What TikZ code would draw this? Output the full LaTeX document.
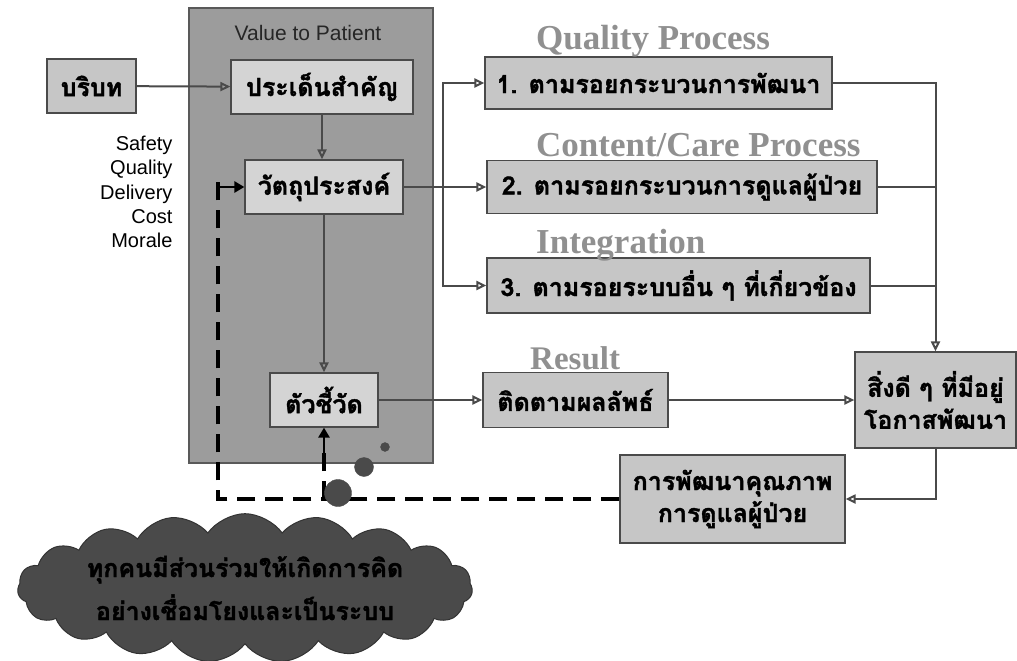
\documentclass[tikz,border=0pt]{standalone}
\usepackage{fontspec}
\setmainfont{Liberation Sans}
\newfontfamily\thaifont[Script=Thai,BoldFeatures={FakeBold=1.5}]{Loma}
\newfontfamily\headfont{Liberation Serif}
\usetikzlibrary{arrows.meta,shapes.symbols,positioning}
\definecolor{panelgray}{HTML}{9C9C9C}
\definecolor{boxgray}{HTML}{D4D4D4}
\definecolor{outgray}{HTML}{C6C6C6}
\definecolor{linegray}{HTML}{4A4A4A}
\definecolor{headgray}{HTML}{909090}
\definecolor{cloudgray}{HTML}{4A4A4A}
\begin{document}
\begin{tikzpicture}[x=1pt,y=-1pt,
	box/.style={draw=linegray,line width=1.2pt,fill=outgray,inner sep=0pt,align=center,font=\thaifont\bfseries\fontsize{25}{32}\selectfont},
	inbox/.style={box,fill=boxgray},
	head/.style={anchor=base west,inner sep=0pt,text=headgray,font=\headfont\bfseries\fontsize{35}{35}\selectfont},
	conn/.style={draw=linegray,line width=2pt,-{Triangle[open,length=10pt,width=9pt]}},
	wire/.style={draw=linegray,line width=2pt},
	fb/.style={draw=black,line width=3.5pt,dash pattern=on 18pt off 10pt},
	push/.style={draw=black,line width=2.5pt,-{Triangle[length=10pt,width=11pt]}},
	puff/.style={circle,fill=cloudgray,draw=black!70,inner sep=0pt}]
	\useasboundingbox (0,0) rectangle (1017,661);

	\node[draw=black!65,line width=2pt,fill=panelgray,minimum width=244,minimum height=455] (panel) at (311,235.5) {};
	\node[font=\fontsize{21}{21}\selectfont,text=black!85] (vtp) at (308,33) {Value to Patient};

	\node[box,minimum width=89,minimum height=54] (ctx) at (91.5,86) {บริบท};
	\node[inbox,minimum width=182,minimum height=54] (issue) at (322,87) {ประเด็นสำคัญ};
	\node[inbox,minimum width=158,minimum height=54] (obj) at (324,187) {วัตถุประสงค์};
	\node[inbox,minimum width=108,minimum height=54] (ind) at (324,400) {ตัวชี้วัด};
	\node[anchor=east,align=right,font=\fontsize{20}{24.3}\selectfont] (dims) at (176,192) {Safety\\Quality\\Delivery\\Cost\\Morale};

	\node[box,minimum width=347,minimum height=52] (qp) at (658.5,83) {1. ตามรอยกระบวนการพัฒนา};
	\node[box,minimum width=390,minimum height=53] (cp) at (682,187) {2. ตามรอยกระบวนการดูแลผู้ป่วย};
	\node[box,minimum width=383,minimum height=55] (integ) at (678.5,285.5) {3. ตามรอยระบบอื่น ๆ ที่เกี่ยวข้อง};
	\node[box,minimum width=185,minimum height=55] (track) at (575.5,400) {ติดตามผลลัพธ์};
	\node[box,minimum width=161,minimum height=96] (good) at (935.5,400) {สิ่งดี ๆ ที่มีอยู่\\โอกาสพัฒนา};
	\node[box,minimum width=225,minimum height=88] (improve) at (732.5,499) {การพัฒนาคุณภาพ\\การดูแลผู้ป่วย};

	\node[head] (hqp) at (536,50) {Quality Process};
	\node[head] (hcp) at (536,156) {Content/Care Process};
	\node[head] (hint) at (536,253) {Integration};
	\node[head,font=\headfont\bfseries\fontsize{33}{33}\selectfont] (hres) at (530,369) {Result};

	\coordinate (split) at (443,187);
	\coordinate (fbcorner) at (218,499);
	\coordinate (fbtop) at (218,187);
	\coordinate (fbmid) at (324,457);

	\draw[conn] (ctx) -- (issue);
	\draw[conn] (issue.south) -- (issue.south |- obj.north);
	\draw[conn] (obj) -- (ind);
	\draw[conn] (obj) -- (cp);
	\draw[conn] (split) |- (qp);
	\draw[conn] (split) |- (integ);
	\draw[conn] (qp) -| (good);
	\draw[wire] (cp) -- (cp -| good);
	\draw[wire] (integ) -- (integ -| good);
	\draw[conn] (ind) -- (track);
	\draw[conn] (track) -- (good);
	\draw[conn] (good) |- (improve);

	\draw[fb] (improve.west) -- (fbcorner) -- ([yshift=12pt]fbtop);
	\draw[push] (fbtop) ++(2,0) -- (obj.west);
	\draw[fb] (ind.south |- fbcorner) -- ([yshift=6pt]fbmid);
	\draw[push] (fbmid) -- (ind.south);

	\node[puff,minimum size=9] (t1) at (385,447) {};
	\node[puff,minimum size=19] (t2) at (364,467) {};
	\node[puff,minimum size=27] (t3) at (338,493) {};

	\node[cloud,cloud puffs=19,cloud puff arc=110,aspect=4,fill=cloudgray,draw=black!80,line width=1pt,
		minimum width=455,minimum height=84,align=center,text=black,inner sep=0pt,
		font=\thaifont\bfseries\fontsize{25}{43}\selectfont] (cloud) at (245,588) {ทุกคนมีส่วนร่วมให้เกิดการคิด\\อย่างเชื่อมโยงและเป็นระบบ};
\end{tikzpicture}
\end{document}
